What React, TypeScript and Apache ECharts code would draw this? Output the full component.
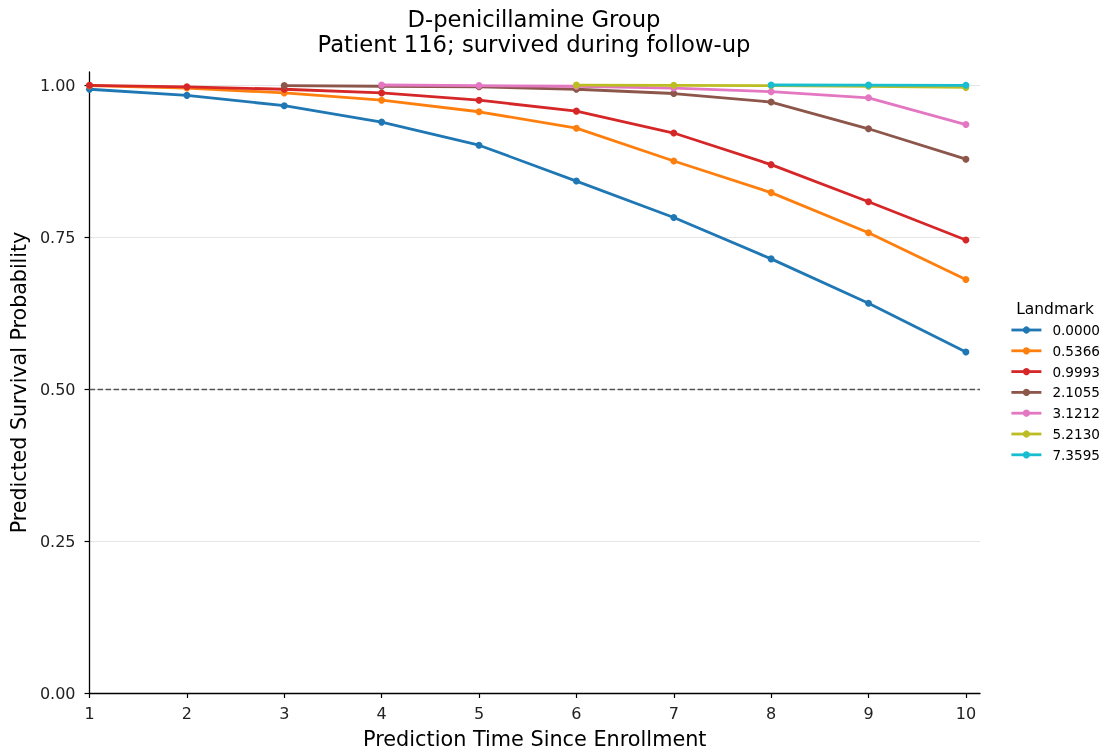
import React, { useEffect, useRef } from "react";
import * as echarts from "echarts";

const predictionTimes = [1, 2, 3, 4, 5, 6, 7, 8, 9, 10];
const landmarkNames = ["0.0000", "0.5366", "0.9993", "2.1055", "3.1212", "5.2130", "7.3595"];
const colors = ["#1f77b4", "#ff7f0e", "#d62728", "#8c564b", "#e377c2", "#bcbd22", "#17becf"];

const lm0000 = [0.993, 0.983, 0.966, 0.939, 0.901, 0.842, 0.782, 0.714, 0.641, 0.561];
const lm0536 = [0.999, 0.995, 0.987, 0.975, 0.956, 0.929, 0.875, 0.823, 0.757, 0.68];
const lm0999 = [0.9995, 0.997, 0.993, 0.987, 0.975, 0.957, 0.921, 0.869, 0.808, 0.745];
const lm2105 = [null, null, 0.999, 0.998, 0.997, 0.993, 0.986, 0.972, 0.928, 0.878];
const lm3121 = [null, null, null, 1.0, 0.999, 0.998, 0.995, 0.989, 0.979, 0.935];
const lm5213 = [null, null, null, null, null, 0.9998, 0.9995, 0.999, 0.998, 0.996];
const lm7359 = [null, null, null, null, null, null, null, 1.0, 0.9998, 0.9995];

const seriesValues = [lm0000, lm0536, lm0999, lm2105, lm3121, lm5213, lm7359];
const yTicks = [0, 0.25, 0.5, 0.75, 1.0];
const titleLines = ["D-penicillamine Group", "Patient 116; survived during follow-up"];

const FONT = "DejaVu Sans";

export default function App() {
  const ref = useRef<HTMLDivElement>(null);
  useEffect(() => {
    if (!ref.current) return;
    const chart = echarts.init(ref.current, null, { renderer: "svg" });
    const series: any[] = seriesValues.map((vals, i) => ({
      name: landmarkNames[i],
      type: "line",
      data: predictionTimes
        .map((x, j) => [x, vals[j]])
        .filter((p) => p[1] !== null),
      symbol: "circle",
      symbolSize: 7,
      lineStyle: { width: 2.8, color: colors[i] },
      itemStyle: { color: colors[i] },
      z: 3 + i,
    }));
    series[0].markLine = {
      silent: true,
      symbol: "none",
      label: { show: false },
      lineStyle: { type: [5.5, 2.5], color: "#555555", width: 1.3 },
      data: [{ yAxis: 0.5 }],
    };
    chart.setOption({
      animation: false,
      textStyle: { fontFamily: FONT },
      graphic: [
        {
          type: "text",
          x: 534,
          y: 19,
          style: { text: titleLines[0], font: `22.7px '${FONT}'`, fill: "#000", textAlign: "center", textVerticalAlign: "middle" },
        },
        {
          type: "text",
          x: 534,
          y: 44,
          style: { text: titleLines[1], font: `22.7px '${FONT}'`, fill: "#000", textAlign: "center", textVerticalAlign: "middle" },
        },
        {
          type: "text",
          x: 1055,
          y: 309,
          style: { text: "Landmark", font: `15.5px '${FONT}'`, fill: "#000", textAlign: "center", textVerticalAlign: "middle" },
        },
      ],
      grid: { left: 89, right: 127, top: 72, bottom: 63 },
      legend: {
        orient: "vertical",
        left: 1005,
        top: 318,
        itemWidth: 30,
        itemHeight: 9,
        itemGap: 6.8,
        itemStyle: { borderWidth: 0 },
        lineStyle: { width: 2.8 },
        textStyle: { fontSize: 13.6, color: "#000", fontFamily: FONT, padding: [0, 0, 0, 6] },
        data: landmarkNames,
      },
      xAxis: {
        type: "value",
        min: 1,
        max: 10.145,
        name: "Prediction Time Since Enrollment",
        nameLocation: "middle",
        nameGap: 35,
        nameTextStyle: { fontSize: 20.8, color: "#000", fontFamily: FONT },
        axisLine: { lineStyle: { color: "#000", width: 1.3 } },
        axisTick: { show: true, length: 5, lineStyle: { color: "#000", width: 1.2 }, customValues: predictionTimes },
        axisLabel: { fontSize: 16, color: "#222", margin: 12, customValues: predictionTimes, fontFamily: FONT },
        splitLine: { show: false },
      },
      yAxis: {
        type: "value",
        min: 0,
        max: 1.0214,
        name: "Predicted Survival Probability",
        nameLocation: "middle",
        nameGap: 59,
        nameTextStyle: { fontSize: 20.6, color: "#000", fontFamily: FONT },
        axisLine: { show: true, lineStyle: { color: "#000", width: 1.3 } },
        axisTick: { show: true, length: 5, lineStyle: { color: "#000", width: 1.2 }, customValues: yTicks },
        axisLabel: {
          fontSize: 16,
          color: "#222",
          margin: 14,
          customValues: yTicks,
          fontFamily: FONT,
          formatter: (v: number) => v.toFixed(2),
        },
        splitLine: { show: true, lineStyle: { color: "#e5e5e5", width: 1 } },
      },
      series,
    });
    return () => chart.dispose();
  }, []);
  return <div ref={ref} style={{ position: "fixed", left: 0, top: 0, width: 1107, height: 756 }} />;
}
